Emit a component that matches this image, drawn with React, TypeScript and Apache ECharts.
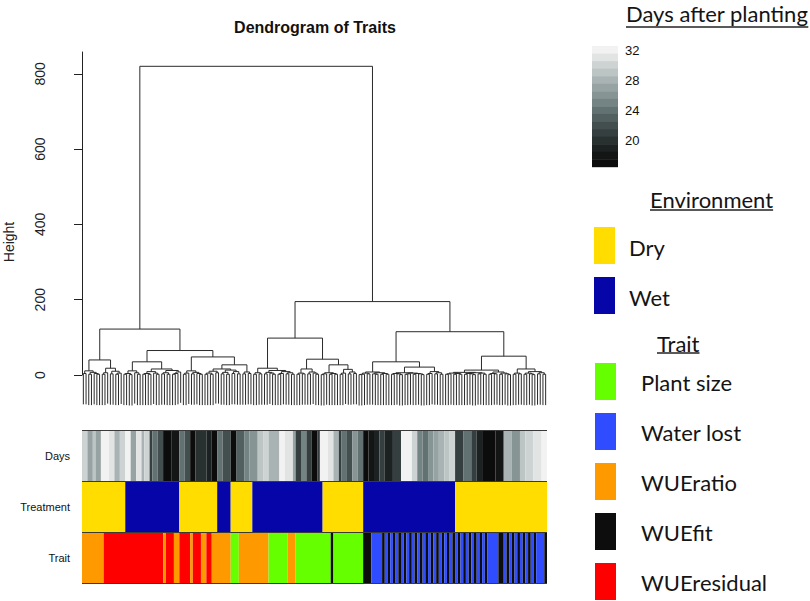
import React, { useEffect, useRef } from "react";
import * as echarts from "echarts";

const FONT_R = "'Liberation Sans', Arial, Helvetica, sans-serif";
const FONT_L = "Lato, 'Open Sans', sans-serif";

// ---------- Dendrogram (merge heights) ----------
const ROOT_HEIGHT = 820;
const HANG = 82; // R hang = 0.1 * max height
const HEIGHT_TICKS = [0, 200, 400, 600, 800];
const HEIGHT_AXIS_MAX = 858;

// node = [height, left, right]; leaf = 0
const TREE_A1 = [40,
  [11, [4, 0, 0], [7, [2, 0, 0], [4, 0, [2, 0, 0]]]],
  [18, [6, [2, 0, 0], 0], [10, [3, 0, 0], [5, [2, 0, 0], 0]]]];
const TREE_A2A = [35,
  [11, [4, [2, 0, 0], [1, 0, 0]], [6, 0, [2, 0, 0]]],
  [16, [9, [4, [2, 0, 0], [2, 0, 0]], [5, 0, [2, 0, 0]]], [12, [6, [3, 0, 0], [2, 0, 0]], [8, [4, [2, 0, 0], 0], 0]]]];
const TREE_A2B = [48,
  [11, [5, [2, 0, 0], 0], [7, [3, 0, 0], [4, 0, [2, 0, 0]]]],
  [27,
    [16, [10, [5, [2, 0, 0], [2, 0, 0]], [6, 0, 0]], [13, [7, [3, 0, 0], [2, 0, 0]], [9, [4, 0, 0], [3, 0, 0]]]],
    [8, [3, 0, 0], [4, 0, 0]]]];
const TREE_B1 = [98,
  [18, [6, [2, 0, 0], [3, 0, 0]], [12, [7, [3, 0, 0], [5, 0, [2, 0, 0]]], [9, [4, [2, 0, 0], 0], [6, [3, 0, 0], [2, 0, 0]]]]],
  [42,
    [16, [5, [2, 0, 0], [3, 0, 0]], [8, [3, 0, 0], [5, 0, [2, 0, 0]]]],
    [27, [6, [3, [1, 0, 0], 0], [4, [2, 0, 0], [2, 0, 0]]], [15, [5, [2, 0, 0], 0], [8, [3, 0, 0], [4, 0, 0]]]]]];
const TREE_B2A = [35,
  [8, [5, [2, [1, 0, 0], 0], [3, 0, 0]], [6, [3, 0, [2, 0, 0]], [4, [2, 0, 0], [2, 0, 0]]]],
  [21,
    [6, [4, [2, 0, 0], [3, 0, [1, 0, 0]]], [5, [3, [2, 0, 0], 0], [4, [2, 0, 0], [3, 0, [1, 0, 0]]]]],
    [9, [4, [2, 0, 0], 0], [6, [3, 0, 0], [2, 0, 0]]]]];
const TREE_B2B = [50,
  [13,
    [7, [5, [3, [2, 0, 0], 0], [4, [2, 0, 0], [2, 0, 0]]], [6, [4, [2, 0, 0], [3, 0, [1, 0, 0]]], [5, [3, 0, 0], [2, 0, 0]]]],
    [8, [4, [2, 0, 0], [3, 0, 0]], [5, [2, 0, 0], [3, 0, [1, 0, 0]]]]],
  [16,
    [5, [2, 0, 0], [3, 0, 0]],
    [9, [5, [2, 0, 0], [3, 0, [1, 0, 0]]], [6, [3, 0, 0], [2, 0, 0]]]]];
const TREE = [ROOT_HEIGHT,
  [122, TREE_A1, [65, TREE_A2A, TREE_A2B]],
  [195, TREE_B1, [115, TREE_B2A, TREE_B2B]]];

// ---------- Colour bars ----------
const ROWS = ["Trait", "Treatment", "Days"];

// Days after planting, as runs along the leaf order
const DAY_VALUES = [30, 27, 29, 27, 32, 31, 28, 30, 32, 27, 31, 28, 30, 21, 24, 22, 17, 18, 24, 22,
  17, 20, 19, 17, 24, 22, 17, 23, 25, 26, 29, 30, 28, 32, 31, 27, 21, 25, 21, 17,
  21, 32, 31, 28, 21, 24, 22, 26, 24, 17, 18, 19, 21, 19, 21, 32, 30, 25, 24, 26,
  27, 28, 29, 30, 21, 24, 21, 19, 17, 18, 28, 26, 29, 30, 31, 32];
const DAY_COUNTS = [2, 2, 1, 2, 3, 2, 2, 2, 2, 2, 2, 1, 2, 1, 2, 2, 3, 3, 2, 2,
  2, 4, 2, 2, 2, 3, 2, 3, 2, 3, 2, 2, 4, 2, 3, 1, 2, 2, 2, 2,
  1, 3, 2, 2, 1, 2, 2, 2, 2, 2, 2, 2, 2, 3, 3, 4, 2, 2, 2, 2,
  2, 2, 2, 2, 3, 3, 2, 2, 5, 3, 3, 3, 2, 3, 3, 2];
const DAY_MIN = 17;
const DAY_COLORS = ["#0c0c0c", "#141616", "#1c2222", "#283030", "#353f3f", "#434f4f", "#536060", "#627171",
  "#748383", "#869494", "#97a3a3", "#a9b3b3", "#bcc4c4", "#cdd3d3", "#e2e4e4", "#f2f2f2"];
const DAY_LEGEND_TICKS = [32, 28, 24, 20];

const ENV_NAMES = ["Dry", "Wet"];
const ENV_COLORS = ["#ffdd00", "#0606a8"];
const TREATMENT_RUNS = [["Dry", 16], ["Wet", 20], ["Dry", 14], ["Wet", 5], ["Dry", 8], ["Wet", 26],
  ["Dry", 15], ["Wet", 34], ["Dry", 34]];

const TRAIT_NAMES = ["Plant size", "Water lost", "WUEratio", "WUEfit", "WUEresidual"];
const TRAIT_COLORS = ["#66ff00", "#2f4dff", "#ff9900", "#0d0d0d", "#ff0000"];
const TRAIT_RUNS = [
  ["WUEratio", 8], ["WUEresidual", 22], ["WUEratio", 1], ["WUEresidual", 3], ["WUEratio", 2],
  ["WUEresidual", 4], ["WUEratio", 1], ["WUEresidual", 3], ["WUEratio", 2], ["WUEresidual", 2],
  ["WUEratio", 7], ["Plant size", 3], ["WUEratio", 11], ["Plant size", 7], ["WUEratio", 3],
  ["Plant size", 13], ["WUEfit", 1], ["Plant size", 11], ["WUEfit", 3], ["Water lost", 4],
  ["WUEfit", 1], ["Water lost", 1], ["WUEfit", 1], ["Water lost", 1], ["WUEfit", 1], ["Water lost", 1],
  ["WUEfit", 1], ["Water lost", 1], ["WUEfit", 1], ["Water lost", 1], ["WUEfit", 1], ["Water lost", 1],
  ["WUEfit", 1], ["Water lost", 1], ["WUEfit", 1], ["Water lost", 1], ["WUEfit", 1], ["Water lost", 1],
  ["WUEfit", 1], ["Water lost", 1], ["WUEfit", 1], ["Water lost", 1], ["WUEfit", 1], ["Water lost", 1],
  ["WUEfit", 1], ["Water lost", 1], ["WUEfit", 1], ["Water lost", 1], ["WUEfit", 1], ["Water lost", 1],
  ["WUEfit", 1], ["Water lost", 1], ["WUEfit", 1], ["Water lost", 1], ["WUEfit", 1], ["Water lost", 1],
  ["WUEfit", 1], ["Water lost", 1], ["WUEfit", 1],
  ["Water lost", 4], ["WUEfit", 2],
  ["Water lost", 1], ["WUEfit", 1], ["Water lost", 1], ["WUEfit", 1], ["Water lost", 1], ["WUEfit", 1],
  ["Water lost", 1], ["WUEfit", 1], ["Water lost", 1], ["WUEfit", 1], ["Water lost", 1], ["WUEfit", 1],
  ["Water lost", 3], ["WUEfit", 1]];

// ---------- helpers ----------
function layoutTree(tree: any) {
  const segs: number[][] = [];
  let next = 0;
  const walk = (node: any): { x: number; h: number; leaf: boolean } => {
    if (node === 0) {
      const x = next + 0.5;
      next += 1;
      return { x, h: 0, leaf: true };
    }
    const [h, l, r] = node;
    const L = walk(l);
    const R = walk(r);
    [L, R].forEach((c) => segs.push([c.x, c.leaf ? h - HANG : c.h, c.x, h]));
    segs.push([L.x, h, R.x, h]);
    return { x: (L.x + R.x) / 2, h, leaf: false };
  };
  walk(tree);
  return { segs, n: next };
}

function buildCells() {
  const cells: { start: number; end: number; row: number; color: string }[] = [];
  let p = 0;
  DAY_VALUES.forEach((v, i) => {
    cells.push({ start: p, end: p + DAY_COUNTS[i], row: 2, color: DAY_COLORS[v - DAY_MIN] });
    p += DAY_COUNTS[i];
  });
  p = 0;
  TREATMENT_RUNS.forEach(([name, c]: any) => {
    cells.push({ start: p, end: p + c, row: 1, color: ENV_COLORS[ENV_NAMES.indexOf(name)] });
    p += c;
  });
  p = 0;
  TRAIT_RUNS.forEach(([name, c]: any) => {
    cells.push({ start: p, end: p + c, row: 0, color: TRAIT_COLORS[TRAIT_NAMES.indexOf(name)] });
    p += c;
  });
  return cells;
}

function measure(text: string, font: string) {
  const ctx = document.createElement("canvas").getContext("2d")!;
  ctx.font = font;
  return ctx.measureText(text).width;
}

export default function App() {
  const ref = useRef<HTMLDivElement>(null);

  useEffect(() => {
    if (!ref.current) return;
    const chart = echarts.init(ref.current, undefined, { renderer: "svg" });
    const { segs, n } = layoutTree(TREE);
    const cells = buildCells();

    const LEG_FONT_SIZE = 22;
    const legFont = `${LEG_FONT_SIZE}px Lato`;
    const textColor = "#141414";

    const graphic: any[] = [];
    graphic.push({
      type: "text", x: 315, y: 27,
      style: { text: "Dendrogram of Traits", font: `bold 16px ${FONT_R}`, fill: "#111", textAlign: "center", textVerticalAlign: "middle" },
    });
    graphic.push({
      type: "text", x: 9, y: 242, rotation: Math.PI / 2,
      style: { text: "Height", font: `14px ${FONT_R}`, fill: "#222", textAlign: "center", textVerticalAlign: "middle" },
    });
    const header = (text: string, x: number, y: number, uy: number) => {
      const w = measure(text, legFont);
      graphic.push({ type: "text", x, y, style: { text, font: `${LEG_FONT_SIZE}px ${FONT_L}`, fill: textColor, textAlign: "left", textVerticalAlign: "middle" } });
      graphic.push({ type: "line", shape: { x1: x, y1: uy, x2: x + w, y2: uy }, style: { stroke: "#222", lineWidth: 1.3 } });
    };
    header("Days after planting", 626, 13, 27);
    header("Environment", 650, 199, 210);
    header("Trait", 657, 343, 353);

    // Days colour key
    const keyTop = 46, keyStep = 7.55;
    DAY_COLORS.slice().reverse().forEach((col, k) => {
      graphic.push({ type: "rect", shape: { x: 592, y: keyTop + k * keyStep, width: 26, height: keyStep + 0.4 }, style: { fill: col } });
    });
    const maxDay = DAY_MIN + DAY_COLORS.length - 1;
    DAY_LEGEND_TICKS.forEach((d) => {
      graphic.push({
        type: "text", x: 625, y: keyTop + (maxDay - d + 0.5) * keyStep + 0.5,
        style: { text: String(d), font: `13px ${FONT_R}`, fill: "#111", textAlign: "left", textVerticalAlign: "middle" },
      });
    });

    // Environment key
    ENV_NAMES.forEach((name, i) => {
      const top = 227 + i * 50;
      graphic.push({ type: "rect", shape: { x: 594, y: top, width: 21, height: 37 }, style: { fill: ENV_COLORS[i] } });
      graphic.push({ type: "text", x: 629, y: top + 20, style: { text: name, font: `${LEG_FONT_SIZE}px ${FONT_L}`, fill: textColor, textVerticalAlign: "middle" } });
    });
    // Trait key
    TRAIT_NAMES.forEach((name, i) => {
      const top = 363 + i * 50;
      graphic.push({ type: "rect", shape: { x: 595, y: top, width: 21, height: 37 }, style: { fill: TRAIT_COLORS[i] } });
      graphic.push({ type: "text", x: 641, y: top + 19, style: { text: name, font: `${LEG_FONT_SIZE}px ${FONT_L}`, fill: textColor, textVerticalAlign: "middle" } });
    });

    const option: any = {
      animation: false,
      backgroundColor: "#ffffff",
      grid: [
        { left: 82, top: 52, width: 465, height: 323, containLabel: false, outerBoundsMode: "none" },
        { left: 82, top: 430.5, width: 465, height: 152.5, containLabel: false, outerBoundsMode: "none" },
      ],
      xAxis: [
        { gridIndex: 0, type: "value", min: 0, max: n, show: false },
        { gridIndex: 1, type: "value", min: 0, max: n, show: false },
      ],
      yAxis: [
        {
          gridIndex: 0, type: "value", min: 0, max: HEIGHT_AXIS_MAX, interval: 200, offset: 17,
          axisLine: { show: true, lineStyle: { color: "#222", width: 1 } },
          axisTick: { show: true, length: 8, customValues: HEIGHT_TICKS, lineStyle: { color: "#222", width: 1 } },
          axisLabel: { customValues: HEIGHT_TICKS, rotate: 90, margin: 18, fontSize: 14, color: "#222", fontFamily: FONT_R },
          splitLine: { show: false },
        },
        {
          gridIndex: 1, type: "category", data: ROWS, z: 10,
          axisLine: { show: false }, axisTick: { show: false },
          axisLabel: { fontSize: 11, color: "#111", margin: 12, fontFamily: FONT_R },
          splitLine: { show: true, lineStyle: { color: "#3a3a3a", width: 1 } },
        },
      ],
      series: [
        {
          type: "custom", xAxisIndex: 0, yAxisIndex: 0, silent: true, clip: false,
          dimensions: ["x1", "y1", "x2", "y2"], encode: { x: [0, 2], y: [1, 3] },
          data: segs,
          renderItem: (_p: any, api: any) => {
            const a = api.coord([api.value(0), api.value(1)]);
            const b = api.coord([api.value(2), api.value(3)]);
            return { type: "line", shape: { x1: a[0], y1: a[1], x2: b[0], y2: b[1] }, style: { stroke: "#2a2a2a", lineWidth: 1 } };
          },
        },
        {
          type: "custom", xAxisIndex: 1, yAxisIndex: 1, silent: true,
          dimensions: ["start", "end", "row"], encode: { x: [0, 1], y: 2 },
          data: cells.map((c) => [c.start, c.end, c.row]),
          renderItem: (p: any, api: any) => {
            const s = api.coord([api.value(0), api.value(2)]);
            const e = api.coord([api.value(1), api.value(2)]);
            const bh = api.size([0, 1])[1];
            return {
              type: "rect",
              shape: { x: s[0], y: s[1] - bh / 2, width: e[0] - s[0], height: bh },
              style: { fill: cells[p.dataIndex].color },
            };
          },
        },
      ],
      graphic,
    };
    chart.setOption(option);
    return () => chart.dispose();
  }, []);

  return <div ref={ref} style={{ position: "fixed", left: 0, top: 0, width: 810, height: 601 }} />;
}
